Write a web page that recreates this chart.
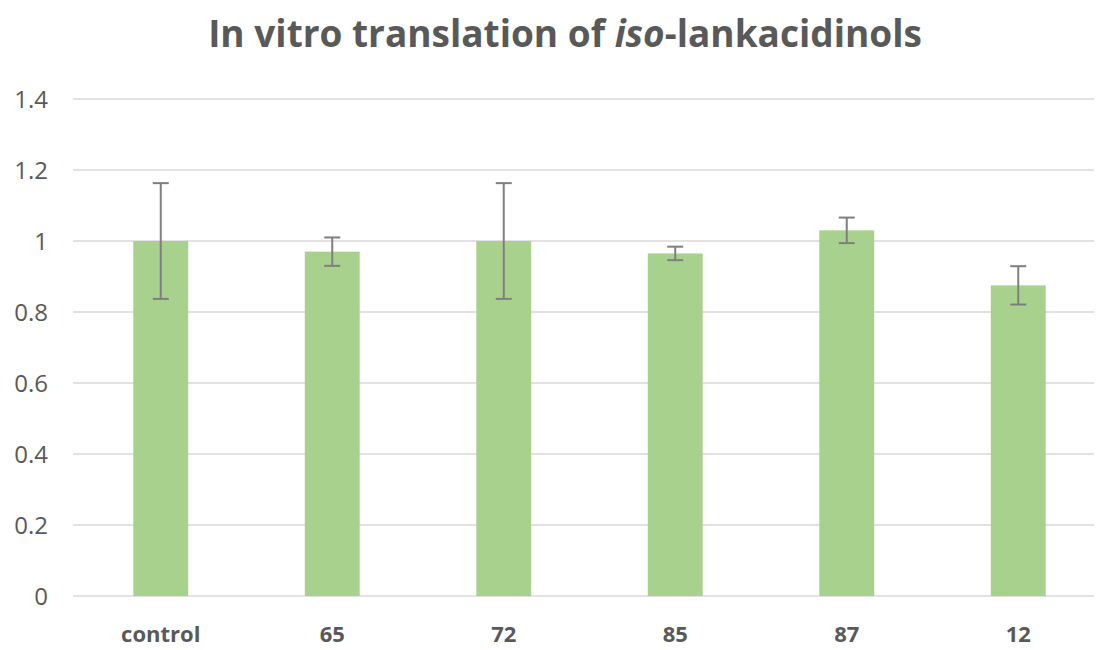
<!DOCTYPE html>
<html>
<head>
<meta charset="utf-8">
<script src="https://cdn.jsdelivr.net/npm/d3@7"></script>
<style>
  body { margin: 0; background: #fff; }
  text { font-family: 'Open Sans', 'Noto Sans', sans-serif; fill: #595959; }
</style>
</head>
<body>
<div id="chart"></div>
<script>
const WIDTH = 1096;
const HEIGHT = 650;

const categories = ['control', '65', '72', '85', '87', '12'];
const values = [1.0, 0.97, 1.0, 0.965, 1.03, 0.875];
const errors = [0.163, 0.04, 0.163, 0.019, 0.036, 0.054];
const yTicks = [0, 0.2, 0.4, 0.6, 0.8, 1, 1.2, 1.4];

const margin = { top: 99, right: -8, bottom: 54, left: 75 };

const svg = d3
  .select('#chart')
  .append('svg')
  .attr('width', WIDTH)
  .attr('height', HEIGHT);

const x = d3
  .scaleBand()
  .domain(categories)
  .range([margin.left, WIDTH - margin.right])
  .paddingInner(0.68)
  .paddingOuter(0.34);

const y = d3
  .scaleLinear()
  .domain([0, 1.4])
  .range([HEIGHT - margin.bottom, margin.top]);

// gridlines
svg
  .append('g')
  .selectAll('line')
  .data(yTicks)
  .join('line')
  .attr('x1', 73)
  .attr('x2', 1094)
  .attr('y1', (d) => y(d))
  .attr('y2', (d) => y(d))
  .attr('stroke', '#d9d9d9')
  .attr('stroke-width', 1.5);

// y axis labels
svg
  .append('g')
  .selectAll('text')
  .data(yTicks)
  .join('text')
  .attr('x', 48)
  .attr('y', (d) => y(d))
  .attr('dy', '0.36em')
  .attr('text-anchor', 'end')
  .style('font-size', '24px')
  .text((d) => d);

// bars
svg
  .append('g')
  .selectAll('rect')
  .data(categories)
  .join('rect')
  .attr('x', (d) => x(d))
  .attr('width', x.bandwidth())
  .attr('y', (d, i) => y(values[i]))
  .attr('height', (d, i) => y(0) - y(values[i]))
  .attr('fill', '#a9d18e');

// error bars
const err = svg.append('g').attr('stroke', '#7f7f7f').attr('stroke-width', 2);
categories.forEach((c, i) => {
  const cx = x(c) + x.bandwidth() / 2;
  const hi = y(values[i] + errors[i]);
  const lo = y(values[i] - errors[i]);
  err.append('line').attr('x1', cx).attr('x2', cx).attr('y1', hi).attr('y2', lo);
  err.append('line').attr('x1', cx - 8).attr('x2', cx + 8).attr('y1', hi).attr('y2', hi);
  err.append('line').attr('x1', cx - 8).attr('x2', cx + 8).attr('y1', lo).attr('y2', lo);
});

// x labels
svg
  .append('g')
  .selectAll('text')
  .data(categories)
  .join('text')
  .attr('x', (d) => x(d) + x.bandwidth() / 2)
  .attr('y', 642)
  .attr('text-anchor', 'middle')
  .style('font-size', '22px')
  .style('font-weight', 'bold')
  .text((d) => d);

// title
const title = svg
  .append('text')
  .attr('x', 565)
  .attr('y', 47)
  .attr('text-anchor', 'middle')
  .style('font-size', '37px')
  .style('font-weight', 'bold');
title.append('tspan').text('In vitro translation of ');
title.append('tspan').style('font-style', 'italic').text('iso');
title.append('tspan').text('-lankacidinols');
</script>
</body>
</html>
